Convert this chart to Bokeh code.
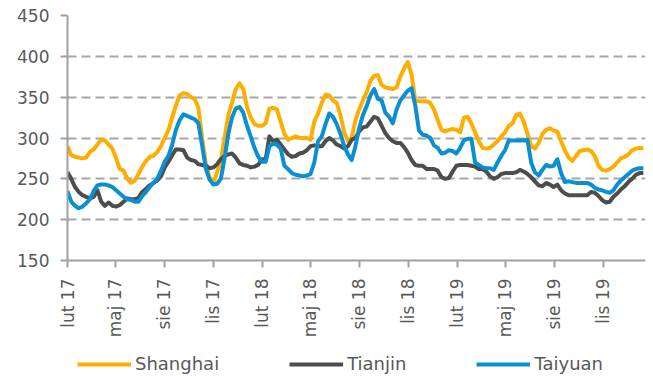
import math
import pandas as pd
from bokeh.plotting import figure
from bokeh.layouts import column
from bokeh.models import ColumnDataSource, FixedTicker, Legend, LegendItem, Range1d
from bokeh.embed import file_html
from bokeh.resources import INLINE

# ---- data (weekly) ----
start_date = "2017-02-01"
n_weeks = 155

shanghai = [290, 279, 277, 276, 275, 276, 283, 286, 292, 298, 297, 292, 287, 275, 262, 260,
            250, 245, 248, 256, 265, 272, 277, 278, 283, 290, 300, 310, 325, 340, 352, 355,
            354, 350, 348, 337, 300, 268, 252, 245, 258, 272, 300, 328, 343, 360, 367, 360,
            338, 325, 317, 315, 315, 318, 336, 337, 335, 320, 305, 298, 300, 302, 300, 300,
            300, 298, 320, 330, 343, 353, 352, 346, 343, 328, 307, 296, 300, 322, 335, 346,
            356, 370, 376, 377, 365, 362, 361, 360, 362, 375, 385, 393, 378, 346, 345, 345,
            345, 343, 335, 322, 310, 308, 310, 311, 310, 307, 325, 326, 318, 307, 296, 288,
            287, 288, 292, 296, 302, 307, 315, 318, 328, 330, 320, 305, 290, 287, 294, 305,
            310, 312, 309, 308, 296, 285, 276, 272, 278, 284, 285, 286, 284, 278, 266, 261,
            260, 262, 265, 270, 275, 277, 280, 285, 287, 288, 287]

tianjin = [258, 250, 240, 234, 230, 228, 226, 228, 236, 222, 217, 221, 217, 216, 218, 222,
           226, 225, 225, 227, 234, 238, 242, 245, 248, 253, 264, 271, 279, 286, 286, 285,
           276, 273, 272, 268, 267, 266, 263, 264, 268, 274, 278, 280, 281, 276, 269, 267,
           266, 264, 265, 267, 274, 274, 302, 296, 298, 292, 286, 280, 277, 278, 281, 282,
           285, 290, 291, 290, 290, 296, 300, 297, 292, 290, 287, 290, 298, 300, 308, 313,
           314, 320, 326, 324, 315, 306, 300, 296, 294, 294, 289, 282, 273, 267, 266, 266,
           262, 262, 262, 260, 252, 250, 251, 259, 266, 267, 267, 267, 266, 265, 262, 262,
           259, 253, 250, 252, 256, 257, 257, 257, 258, 261, 259, 256, 252, 247, 242, 241,
           245, 243, 240, 243, 236, 232, 230, 230, 230, 230, 230, 230, 234, 233, 229, 224,
           221, 222, 228, 232, 237, 241, 246, 250, 255, 257, 257]

taiyuan = [235, 222, 217, 214, 216, 220, 225, 235, 242, 243, 243, 242, 240, 236, 232, 228,
           225, 224, 222, 222, 229, 234, 240, 245, 250, 260, 271, 278, 292, 310, 322, 329,
           327, 325, 323, 318, 291, 262, 249, 243, 244, 250, 275, 305, 325, 336, 338, 331,
           315, 302, 288, 277, 271, 271, 290, 293, 292, 287, 266, 262, 257, 255, 254, 253,
           254, 256, 270, 296, 302, 317, 330, 326, 317, 305, 290, 280, 273, 290, 312, 328,
           339, 352, 360, 348, 346, 331, 326, 318, 335, 346, 352, 358, 361, 340, 309, 304,
           303, 300, 291, 288, 281, 282, 285, 284, 281, 288, 297, 299, 299, 270, 267, 264,
           263, 263, 261, 270, 278, 285, 297, 297, 297, 297, 297, 298, 270, 258, 254, 261,
           267, 265, 266, 274, 257, 246, 247, 246, 245, 245, 245, 245, 243, 239, 237, 236,
           234, 233, 236, 243, 248, 252, 256, 260, 262, 263, 263]

tick_dates = ["2017-02-01", "2017-05-01", "2017-08-01", "2017-11-01",
              "2018-02-01", "2018-05-01", "2018-08-01", "2018-11-01",
              "2019-02-01", "2019-05-01", "2019-08-01", "2019-11-01"]
tick_labels = ["lut 17", "maj 17", "sie 17", "lis 17",
               "lut 18", "maj 18", "sie 18", "lis 18",
               "lut 19", "maj 19", "sie 19", "lis 19"]
y_ticks = [150, 200, 250, 300, 350, 400, 450]

series_names = ["Shanghai", "Tianjin", "Taiyuan"]
series_colors = ["#FFAE00", "#4D4D4D", "#0A8FD2"]

# ---- build ----
t0 = pd.Timestamp(start_date)
dates = pd.date_range(t0, periods=n_weeks, freq="7D")
x_days = [(d - t0).days for d in dates]
tick_pos = [(pd.Timestamp(t) - t0).days for t in tick_dates]

src = ColumnDataSource(dict(x=x_days, Shanghai=shanghai, Tianjin=tianjin, Taiyuan=taiyuan))

FONT = "DejaVu Sans"
TXT = "#595959"
LW = 4

p = figure(width=650, height=340, output_backend="svg", toolbar_location=None,
           x_range=Range1d(0, 1082), y_range=Range1d(150, 450),
           min_border_left=67, min_border_right=5, min_border_top=15, min_border_bottom=77)
p.outline_line_color = None
p.background_fill_color = "white"

for name, col in zip(series_names, series_colors):
    p.line("x", name, source=src, line_color=col, line_width=LW, line_join="round")

# axes
p.xaxis.ticker = FixedTicker(ticks=tick_pos)
p.xaxis.major_label_overrides = {t: l for t, l in zip(tick_pos, tick_labels)}
p.xaxis.major_label_orientation = math.pi / 2
p.yaxis.ticker = FixedTicker(ticks=y_ticks)
for ax in (p.xaxis[0], p.yaxis[0]):
    ax.axis_line_color = "#A0A0A0"
    ax.axis_line_width = 2
    ax.major_tick_line_color = "#A0A0A0"
    ax.major_tick_line_width = 2
    ax.major_tick_out = 7
    ax.major_tick_in = 0
    ax.minor_tick_line_color = None
    ax.major_label_text_font = FONT
    ax.major_label_text_font_size = "17px"
    ax.major_label_text_color = TXT
p.xaxis.major_label_standoff = 11
p.yaxis.major_label_standoff = 11

p.xgrid.grid_line_color = None
p.ygrid.ticker = FixedTicker(ticks=y_ticks)
p.ygrid.grid_line_color = "#A6A6A6"
p.ygrid.grid_line_width = 2
p.ygrid.grid_line_dash = "9 5"

# legend strip below the chart (its lines lie outside its own visible range)
lg = figure(width=650, height=35, output_backend="svg", toolbar_location=None,
            x_range=Range1d(0, 1082), y_range=Range1d(0, 1),
            min_border_left=67, min_border_right=5, min_border_top=0, min_border_bottom=0)
lg.axis.visible = False
lg.grid.visible = False
lg.outline_line_color = None
lg_renderers = [lg.line("x", n, source=src, line_color=c, line_width=LW)
                for n, c in zip(series_names, series_colors)]
legend = Legend(items=[LegendItem(label=n, renderers=[r]) for n, r in zip(series_names, lg_renderers)],
                orientation="horizontal", location=(10, 1))
legend.label_text_font = FONT
legend.label_text_font_size = "18px"
legend.label_text_color = TXT
legend.glyph_width = 54
legend.glyph_height = 18
legend.label_height = 18
legend.label_standoff = 4
legend.spacing = 70
legend.padding = 0
legend.margin = 0
legend.border_line_color = None
legend.background_fill_alpha = 0
lg.add_layout(legend, "center")

layout = column(p, lg, spacing=0)
open("out.html", "w").write(file_html(layout, INLINE))
